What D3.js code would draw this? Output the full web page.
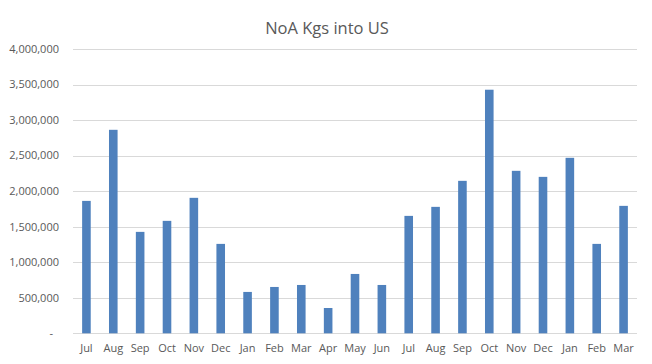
<!DOCTYPE html>
<html>
<head>
<meta charset="utf-8">
<script src="https://cdn.jsdelivr.net/npm/d3@7"></script>
<style>
  body { margin: 0; background: #fff; }
  svg { display: block; font-family: "Open Sans", "Noto Sans", sans-serif; }
</style>
</head>
<body>
<div id="chart"></div>
<script>
const months = ["Jul", "Aug", "Sep", "Oct", "Nov", "Dec", "Jan", "Feb", "Mar", "Apr", "May", "Jun",
                "Jul", "Aug", "Sep", "Oct", "Nov", "Dec", "Jan", "Feb", "Mar"];
const kgs = [1863000, 2863000, 1427000, 1582000, 1906000, 1258000, 582000, 652000, 680000, 356000, 835000, 680000,
             1652000, 1779000, 2145000, 3427000, 2286000, 2201000, 2469000, 1258000, 1793000];
const yTicks = [0, 500000, 1000000, 1500000, 2000000, 2500000, 3000000, 3500000, 4000000];

const width = 652, height = 364;
const margin = { top: 49, right: 15, bottom: 31, left: 73 };

const svg = d3.select("#chart").append("svg")
    .attr("width", width)
    .attr("height", height);

svg.append("text")
    .attr("x", 327)
    .attr("y", 34)
    .attr("text-anchor", "middle")
    .attr("font-size", "16.5px")
    .attr("fill", "#595959")
    .text("NoA Kgs into US");

// index keys so the repeated month names get their own band
const x = d3.scaleBand()
    .domain(d3.range(months.length))
    .range([margin.left, width - margin.right])
    .paddingInner(0.68)
    .paddingOuter(0.34);

const y = d3.scaleLinear()
    .domain([0, 4000000])
    .range([height - margin.bottom + 0.3, margin.top]);

const fmt = d3.format(",");

svg.append("g")
    .selectAll("line")
    .data(yTicks)
    .join("line")
    .attr("x1", margin.left)
    .attr("x2", width - margin.right)
    .attr("y1", d => Math.round(y(d)) + 0.5)
    .attr("y2", d => Math.round(y(d)) + 0.5)
    .attr("stroke", "#d9d9d9")
    .attr("stroke-width", 1);

svg.append("g")
    .selectAll("text")
    .data(yTicks)
    .join("text")
    .attr("x", d => d === 0 ? 53 : 59)
    .attr("y", d => y(d))
    .attr("dy", "0.35em")
    .attr("text-anchor", "end")
    .attr("font-size", "11px")
    .attr("fill", "#595959")
    .text(d => d === 0 ? "-" : fmt(d));

svg.append("g")
    .selectAll("rect")
    .data(kgs)
    .join("rect")
    .attr("x", (d, i) => x(i))
    .attr("width", x.bandwidth())
    .attr("y", d => y(d))
    .attr("height", d => y(0) - y(d))
    .attr("fill", "#4f81bd");

svg.append("g")
    .selectAll("text")
    .data(months)
    .join("text")
    .attr("x", (d, i) => x(i) + x.bandwidth() / 2)
    .attr("y", 348)
    .attr("dy", "0.35em")
    .attr("text-anchor", "middle")
    .attr("font-size", "11px")
    .attr("fill", "#595959")
    .text(d => d);
</script>
</body>
</html>
